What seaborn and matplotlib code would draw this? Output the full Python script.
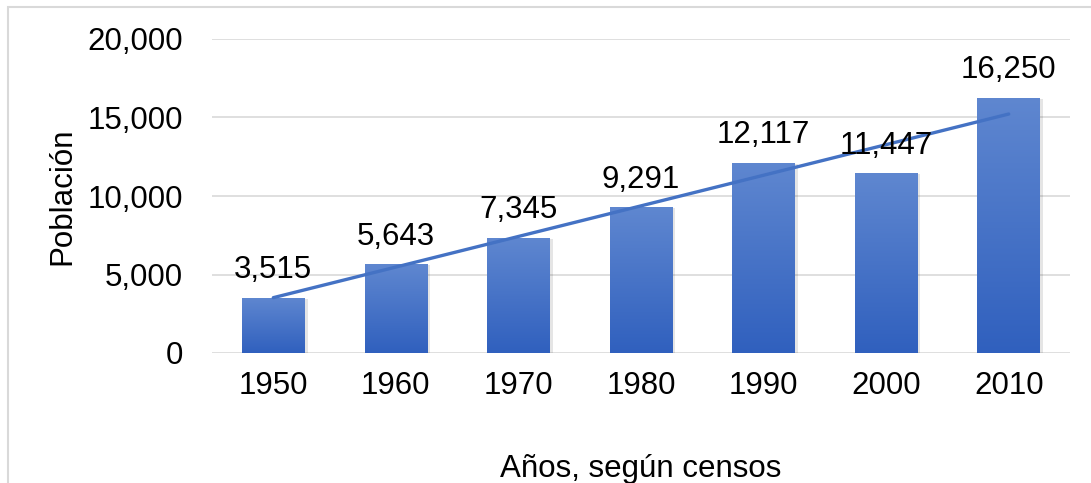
"""
Población según censos 1950-2010: barras con degradado, etiquetas y línea de tendencia.
"""

import numpy as np
import pandas as pd
import matplotlib
matplotlib.use("Agg")
import matplotlib.pyplot as plt
import matplotlib.patches as mpatches
from matplotlib.colors import LinearSegmentedColormap
from matplotlib.ticker import FuncFormatter
import seaborn as sns

YEARS = ["1950", "1960", "1970", "1980", "1990", "2000", "2010"]
POPULATION = [3515, 5643, 7345, 9291, 12117, 11447, 16250]
Y_TICKS = [0, 5000, 10000, 15000, 20000]

BAR_TOP = "#5F87D0"
BAR_BOTTOM = "#3060BE"
TREND_COLOR = "#4472C4"
GRID_COLOR = "#D9D9D9"
FONT_SIZE = 22.5

sns.set_theme(style="white")
plt.rcParams["font.family"] = ["Liberation Sans", "DejaVu Sans"]

df = pd.DataFrame({"year": YEARS, "population": POPULATION})

fig = plt.figure(figsize=(10.91, 4.83), dpi=100)
ax = fig.add_axes([212 / 1091, 1 - 353 / 483, (1070 - 212) / 1091, (353 - 39) / 483])

sns.barplot(data=df, x="year", y="population", color=BAR_BOTTOM,
            width=0.51, ax=ax, zorder=3)

# gradient fill + soft shadow for each bar
cmap = LinearSegmentedColormap.from_list("bar", [BAR_BOTTOM, BAR_TOP])
grad = np.linspace(0, 1, 256).reshape(-1, 1)
for bar in list(ax.patches):
    x0, w, h = bar.get_x(), bar.get_width(), bar.get_height()
    shadow = mpatches.Rectangle((x0 + 0.025, -60), w, h, facecolor="#000000",
                                alpha=0.10, edgecolor="none", zorder=2.5)
    ax.add_patch(shadow)
    im = ax.imshow(grad, cmap=cmap, origin="lower", aspect="auto",
                   extent=(x0, x0 + w, 0, h), zorder=3.1)
    im.set_clip_path(bar)
    bar.set_edgecolor("none")

# linear trend line
xs = np.arange(len(POPULATION))
slope, intercept = np.polyfit(xs, POPULATION, 1)
ax.plot(xs, slope * xs + intercept, color=TREND_COLOR, linewidth=2.4,
        solid_capstyle="round", zorder=4)

# value labels
for i, v in enumerate(POPULATION):
    ax.annotate(f"{v:,}", (i, v), xytext=(0, 9), textcoords="offset points",
                ha="center", va="bottom", fontsize=FONT_SIZE,
                color="#000000", zorder=5)

ax.set_xlim(-0.5, len(YEARS) - 0.5)
ax.set_ylim(0, 20000)
ax.set_yticks(Y_TICKS)
ax.yaxis.set_major_formatter(FuncFormatter(lambda v, _: f"{int(v):,}"))
ax.yaxis.grid(True, color=GRID_COLOR, linewidth=1.2, zorder=0)
ax.set_axisbelow(True)
for side in ["top", "right", "left", "bottom"]:
    ax.spines[side].set_visible(False)
ax.tick_params(axis="both", length=0, labelsize=FONT_SIZE, colors="#000000")
ax.tick_params(axis="x", pad=13)
ax.tick_params(axis="y", pad=21)

ax.set_xlabel("Años, según censos", fontsize=FONT_SIZE, labelpad=38, color="#000000")
ax.set_ylabel("Población", fontsize=FONT_SIZE, labelpad=7, color="#000000")

# outer chart border (left and top visible, rest cropped)
border = mpatches.Rectangle((8 / 1091, -0.1), 1.2, 1 - 7 / 483 + 0.1,
                            transform=fig.transFigure, fill=False,
                            edgecolor=GRID_COLOR, linewidth=1.5)
fig.add_artist(border)

fig.savefig("out.png", dpi=100)
plt.close(fig)
